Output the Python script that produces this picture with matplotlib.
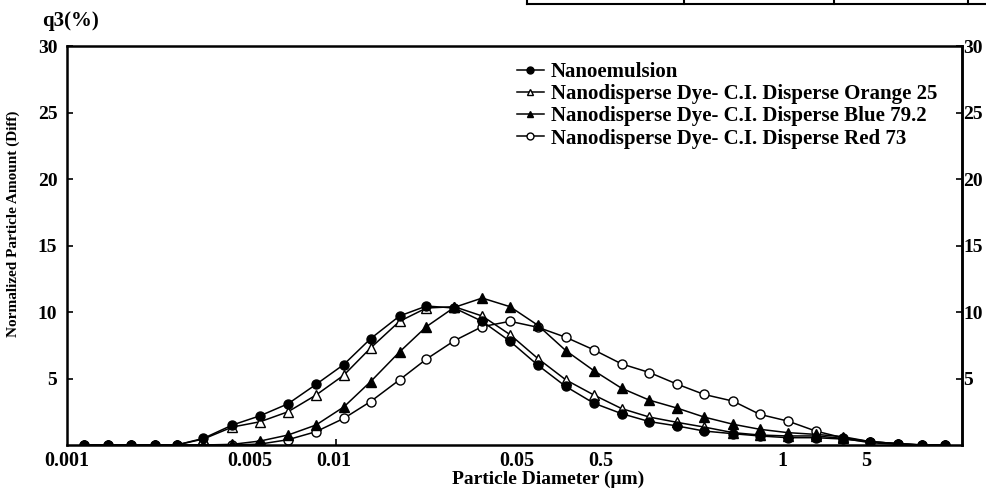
import matplotlib
matplotlib.use("Agg")
import matplotlib.pyplot as plt
from matplotlib.lines import Line2D

plt.rcParams['font.family'] = ['Liberation Serif', 'DejaVu Serif']
plt.rcParams['font.weight'] = 'bold'

# positions of the size bins along the (irregular) diameter axis, axis units
diam_pos = [13, 37, 60, 84, 106, 133, 162, 190, 218, 246, 274, 301, 330, 357, 385, 413, 441,
            469, 497, 525, 553, 581, 609, 636, 665, 692, 720, 748, 775, 803, 831, 855, 878]

nanoemulsion = [0, 0, 0, 0, 0, 0.5, 1.5, 2.2, 3.1, 4.55, 6.05, 8.0, 9.7, 10.45, 10.3, 9.3, 7.8,
                6.0, 4.4, 3.15, 2.36, 1.76, 1.43, 1.05, 0.85, 0.68, 0.55, 0.55, 0.45, 0.25, 0.1, 0, 0]
orange25 = [0, 0, 0, 0, 0, 0.45, 1.35, 1.75, 2.5, 3.75, 5.25, 7.3, 9.3, 10.3, 10.4, 9.7, 8.3,
            6.5, 4.9, 3.77, 2.74, 2.1, 1.7, 1.35, 0.93, 0.75, 0.68, 0.68, 0.5, 0.17, 0.05, 0, 0]
blue79 = [0, 0, 0, 0, 0, 0, 0.05, 0.3, 0.75, 1.5, 2.86, 4.77, 7.0, 8.9, 10.35, 11.05, 10.4,
          9.0, 7.1, 5.6, 4.27, 3.37, 2.77, 2.1, 1.56, 1.18, 0.93, 0.8, 0.63, 0.25, 0.1, 0, 0]
red73 = [0, 0, 0, 0, 0, 0, 0, 0.07, 0.4, 1.0, 2.0, 3.27, 4.9, 6.46, 7.84, 8.9, 9.3,
         8.85, 8.1, 7.16, 6.1, 5.45, 4.57, 3.8, 3.3, 2.3, 1.8, 1.05, 0.55, 0.25, 0.1, 0, 0]

xtick_pos = [-4, 180, 264, 448, 532, 715, 799]
xtick_labels = ["0.001", "0.005", "0.01", "0.05", "0.5", "1", "5"]
xminor_pos = [266, 448, 532]
ytick_vals = [5, 10, 15, 20, 25, 30]

labels = ["Nanoemulsion",
          "Nanodisperse Dye- C.I. Disperse Orange 25",
          "Nanodisperse Dye- C.I. Disperse Blue 79.2",
          "Nanodisperse Dye- C.I. Disperse Red 73"]

fig = plt.figure(figsize=(9.87, 4.88), dpi=100)
ax = fig.add_axes([0.0679, 0.0881, 0.9068, 0.8176])

style = dict(color="black", lw=1.1, ms=6.5, mew=1)
ax.plot(diam_pos, red73, marker="o", mfc="white", **style)
ax.plot(diam_pos, orange25, marker="^", mfc="white", **style)
ax.plot(diam_pos, nanoemulsion, marker="o", mfc="black", **style)
ax.plot(diam_pos, blue79, marker="^", mfc="black", **style)

ax.set_xlim(0, 895)
ax.set_ylim(0, 30)

for s in ax.spines.values():
    s.set_linewidth(1.8)

ax.set_yticks(ytick_vals)
ax.tick_params(axis="y", direction="in", length=4, width=1.2, labelsize=14, pad=7)

# right-hand scale, labels sit right against the frame
ax2 = ax.secondary_yaxis("right")
ax2.set_yticks(ytick_vals)
ax2.tick_params(axis="y", direction="in", length=4, width=1.2, labelsize=14, pad=1)
ax2.spines["right"].set_linewidth(1.8)

ax.set_xticks(xtick_pos)
ax.set_xticklabels(xtick_labels)
ax.set_xticks(xminor_pos, minor=True)
ax.tick_params(axis="x", which="major", length=0, pad=4, labelsize=14.5)
ax.tick_params(axis="x", which="minor", direction="in", length=4, width=1.2)

ax.set_xlabel("Particle Diameter (\u03bcm)", fontsize=14, fontweight="bold", labelpad=0)
ax.xaxis.set_label_coords(0.538, -0.064)
ax.set_ylabel("Normalized Particle Amount (Diff)", fontsize=11, fontweight="bold")
ax.yaxis.set_label_coords(-0.052, 0.555)
fig.text(0.043, 0.957, "q3(%)", fontsize=15, fontweight="bold", va="center", ha="left")

handles = [Line2D([], [], marker=m, mfc=f, color="black", lw=1.1, ms=5) for m, f in
           [("o", "black"), ("^", "white"), ("^", "black"), ("o", "white")]]
ax.legend(handles, labels, loc="upper left", bbox_to_anchor=(0.493, 0.98), frameon=False,
          handlelength=1.3, handletextpad=0.35, labelspacing=0.1,
          borderaxespad=0, prop={"weight": "bold", "size": 15})

# fragment of a table cut at the top edge of the picture
for x0 in [527, 684, 834, 968]:
    fig.add_artist(Line2D([x0 / 987, x0 / 987], [1 - 4 / 488, 1.0], color="black", lw=1.5))
fig.add_artist(Line2D([527 / 987, 1.0], [1 - 4 / 488, 1 - 4 / 488], color="black", lw=1.5))

fig.savefig("out.png", dpi=100)
